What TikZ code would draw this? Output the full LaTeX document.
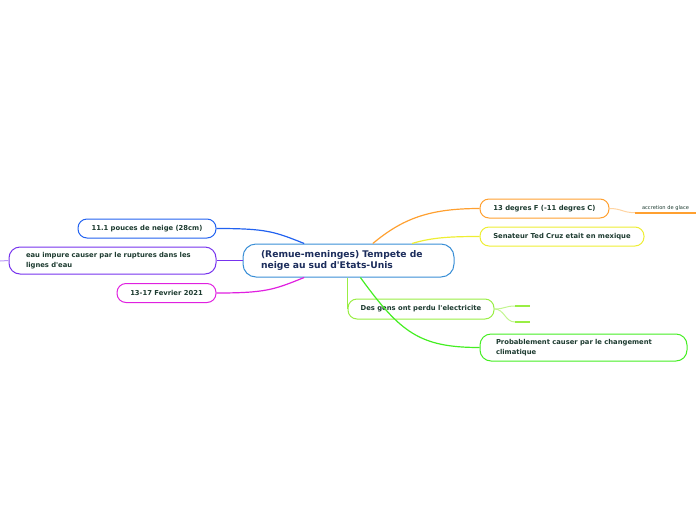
\documentclass[tikz,border=0pt]{standalone}
\usepackage{fontspec}
\setmainfont{DejaVu Sans}[Ligatures=TeXOff]
\definecolor{ink}{HTML}{1D3B30}
\definecolor{navy}{HTML}{1C2D5C}
\definecolor{sky}{HTML}{3A8FD6}
\definecolor{bleu}{HTML}{2262F0}
\definecolor{violet}{HTML}{7733EE}
\definecolor{rose}{HTML}{E020E0}
\definecolor{orange}{HTML}{FFA030}
\definecolor{jaune}{HTML}{EEEE33}
\definecolor{vertclair}{HTML}{99EE44}
\definecolor{vert}{HTML}{44EE22}
\newcommand{\petit}[0]{\bfseries\fontsize{6.8}{9.5}\selectfont}
\newcommand{\branche}[4]{\draw[#1] (#2) .. controls +#3 and +#4 ..}

\tikzset{
  topic/.style={draw=#1, fill=white, line width=1pt, rounded corners=9pt,
    text=ink, font=\petit, inner xsep=10pt, inner ysep=0pt, minimum height=19pt},
  lien/.style={draw=#1, line width=1.2pt}
}

\begin{document}
\begin{tikzpicture}[x=1pt,y=-1pt]
\useasboundingbox (0,0) rectangle (696,520);
%Connectors first
	\coordinate (left) at (0,261);
	\coordinate (g1) at (530,306);
	\coordinate (g2) at (530,322);
%The main topic
	\node[topic=sky, rounded corners=13pt, minimum width=211pt, minimum height=33pt,
	  text width=175pt, align=left, text=navy, font=\bfseries\fontsize{9.2}{11.5}\selectfont]
	  (main) at (348.5,260.5) {(Remue-meninges) Tempete de\\neige au sud d'Etats-Unis};
%Left side
	\node[topic=bleu, minimum width=138pt] (snow) at (147,228.5) {11.1 pouces de neige (28cm)};
	\node[topic=violet, minimum width=207pt, minimum height=27pt, text width=173pt,
	  align=left, rounded corners=11pt] (water) at (112.5,260.5)
	  {eau impure causer par le ruptures dans les\\lignes d'eau};
	\node[topic=rose, minimum width=99pt] (date) at (166.5,293) {13-17 Fevrier 2021};
%Right side
	\node[topic=orange, minimum width=129pt] (temp) at (544.5,208.5) {13 degres F (-11 degres C)};
	\node[topic=jaune, minimum width=164pt] (cruz) at (562,236.5) {Senateur Ted Cruz etait en mexique};
	\node[topic=vertclair, minimum width=146pt, minimum height=20pt] (power) at (421,309)
	  {Des gens ont perdu l'electricite};
	\node[topic=vert, minimum width=207pt, minimum height=27pt, text width=175pt,
	  align=left, rounded corners=11pt] (climate) at (583.5,347.5)
	  {Probablement causer par le changement\\climatique};
	\node[text=ink, font=\fontsize{5.1}{6}\selectfont, minimum width=61pt, inner ysep=2pt]
	  (ice) at (665.5,208) {accretion de glace};
%Links
	\branche{lien=bleu}{main.159}{(-30,-12)}{(50,0)} (snow.east);
	\draw[lien=violet] (main.west) -- (water.east);
	\draw[lien=violet!50, line width=1pt] (water.west) -- (left);
	\branche{lien=rose}{main.201}{(-30,12)}{(50,0)} (date.east);
	\branche{lien=orange}{main.35}{(30,-25)}{(-50,0)} (temp.west);
	\branche{lien=jaune}{main.15}{(20,-6)}{(-30,0)} (cruz.west);
	\draw[lien=vertclair] (main.south -| power.west) -- (power.west);
	\branche{lien=vert}{main.305}{(40,55)}{(-60,0)} (climate.west);
	\branche{lien=orange!45, line width=1pt}{temp.east}{(12,0)}{(-12,0)} (ice.south west);
	\draw[orange, line width=2pt] (ice.south west) -- (ice.south east);
%Empty sub topics
	\branche{lien=vertclair!60, line width=1pt}{power.east}{(10,0)}{(-10,0)} ([xshift=-15pt]g1);
	\branche{lien=vertclair!60, line width=1pt}{power.east}{(10,0)}{(-10,0)} ([xshift=-15pt]g2);
	\draw[vertclair, line width=1.5pt] ([xshift=-15pt]g1) -- (g1);
	\draw[vertclair, line width=1.5pt] ([xshift=-15pt]g2) -- (g2);
\end{tikzpicture}
\end{document}
